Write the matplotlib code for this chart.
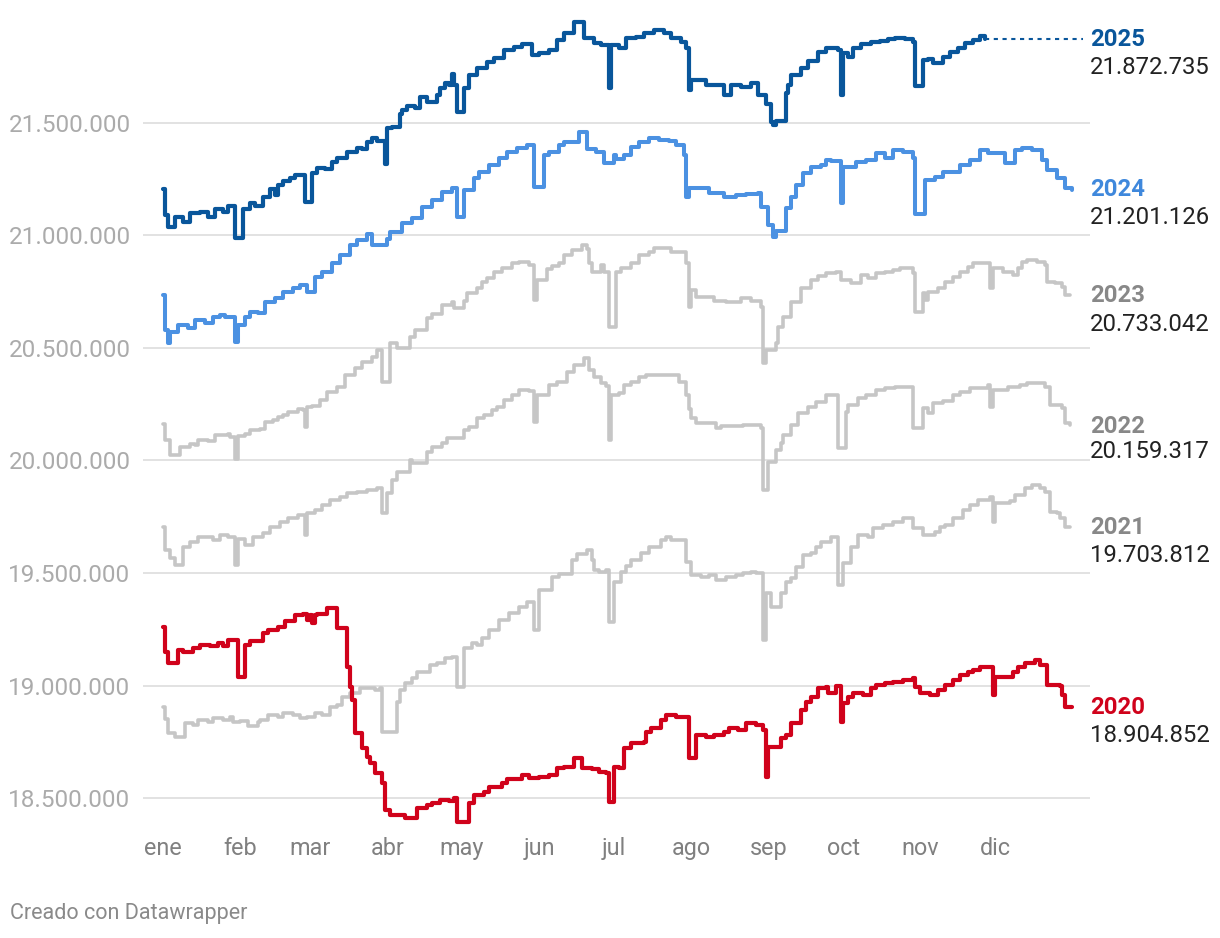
import matplotlib
matplotlib.use("Agg")
import matplotlib.pyplot as plt
from matplotlib.ticker import FuncFormatter

plt.rcParams['font.family'] = ['Roboto', 'DejaVu Sans']

# ---------------- data (day of year, value in millions) ----------------
days_2025 = [0, 1, 2, 5, 8, 11, 15, 18, 21, 24,
             26, 29, 32, 35, 37, 40, 43, 45, 46, 48,
             51, 53, 57, 60, 62, 65, 68, 70, 74, 78,
             80, 82, 84, 86, 89, 90, 92, 95, 96, 98,
             101, 103, 106, 110, 111, 113, 115, 116, 117, 118,
             121, 123, 126, 130, 133, 137, 141, 144, 148, 151,
             155, 158, 161, 165, 169, 173, 176, 179, 180, 183,
             186, 190, 193, 197, 201, 204, 208, 210, 211, 212,
             218, 225, 228, 232, 236, 239, 242, 244, 245, 246,
             250, 251, 252, 256, 259, 263, 266, 271, 272, 273,
             275, 277, 280, 284, 288, 291, 294, 298, 301, 302,
             305, 307, 309, 313, 316, 319, 322, 325, 328, 330]
vals_2025 = [21.206, 21.090, 21.038, 21.083, 21.060, 21.098, 21.105, 21.083, 21.117, 21.105,
             21.131, 20.989, 21.117, 21.142, 21.131, 21.171, 21.206, 21.179, 21.223, 21.241,
             21.256, 21.268, 21.146, 21.277, 21.297, 21.295, 21.327, 21.342, 21.371, 21.389,
             21.385, 21.416, 21.433, 21.420, 21.315, 21.475, 21.480, 21.537, 21.556, 21.575,
             21.565, 21.615, 21.591, 21.623, 21.653, 21.675, 21.667, 21.715, 21.667, 21.549,
             21.653, 21.712, 21.741, 21.771, 21.786, 21.823, 21.838, 21.848, 21.801, 21.810,
             21.823, 21.867, 21.897, 21.949, 21.875, 21.853, 21.843, 21.653, 21.843, 21.830,
             21.875, 21.880, 21.897, 21.912, 21.900, 21.875, 21.860, 21.830, 21.645, 21.690,
             21.667, 21.623, 21.667, 21.660, 21.675, 21.623, 21.582, 21.504, 21.490, 21.506,
             21.631, 21.667, 21.712, 21.741, 21.774, 21.815, 21.833, 21.825, 21.623, 21.808,
             21.790, 21.833, 21.848, 21.860, 21.863, 21.872, 21.877, 21.872, 21.860, 21.664,
             21.778, 21.785, 21.764, 21.793, 21.815, 21.833, 21.853, 21.867, 21.886, 21.872735]

days_2024 = [0, 1, 2, 3, 6, 10, 13, 17, 20, 23,
             25, 27, 29, 30, 33, 35, 38, 41, 45, 48,
             52, 55, 58, 61, 64, 68, 71, 75, 78, 82,
             84, 90, 91, 96, 100, 104, 108, 112, 116, 118,
             121, 125, 127, 131, 135, 138, 142, 146, 149, 153,
             155, 159, 161, 167, 170, 174, 177, 181, 182, 185,
             188, 191, 195, 199, 203, 206, 209, 210, 211, 219,
             225, 230, 234, 239, 240, 243, 245, 246, 250, 252,
             254, 257, 260, 264, 266, 268, 272, 273, 278, 282,
             286, 290, 293, 297, 301, 302, 306, 310, 313, 320,
             324, 328, 331, 338, 342, 345, 349, 353, 355, 359,
             362, 365]
vals_2024 = [20.735, 20.580, 20.520, 20.570, 20.602, 20.587, 20.624, 20.610, 20.639, 20.646,
             20.635, 20.639, 20.528, 20.602, 20.639, 20.661, 20.655, 20.705, 20.723, 20.750,
             20.767, 20.780, 20.750, 20.816, 20.838, 20.876, 20.912, 20.957, 20.979, 21.004,
             20.957, 20.985, 21.016, 21.053, 21.075, 21.127, 21.157, 21.194, 21.209, 21.083,
             21.201, 21.253, 21.282, 21.312, 21.342, 21.371, 21.386, 21.401, 21.216, 21.357,
             21.371, 21.401, 21.416, 21.460, 21.383, 21.371, 21.320, 21.357, 21.340, 21.357,
             21.393, 21.416, 21.431, 21.425, 21.420, 21.401, 21.357, 21.171, 21.209, 21.186,
             21.171, 21.180, 21.183, 21.186, 21.127, 21.046, 20.994, 21.019, 21.120, 21.171,
             21.223, 21.275, 21.305, 21.310, 21.334, 21.330, 21.142, 21.305, 21.325, 21.334,
             21.364, 21.345, 21.379, 21.372, 21.345, 21.095, 21.246, 21.260, 21.282, 21.312,
             21.334, 21.379, 21.365, 21.320, 21.379, 21.386, 21.379, 21.334, 21.290, 21.253,
             21.209, 21.201126]

days_2023 = [0, 1, 3, 7, 11, 13, 14, 18, 21, 26,
             27, 29, 30, 33, 35, 39, 41, 44, 46, 48,
             50, 54, 56, 57, 58, 60, 63, 66, 70, 73,
             77, 80, 84, 86, 88, 91, 94, 99, 101, 106,
             108, 112, 116, 117, 121, 122, 126, 128, 130, 133,
             136, 140, 143, 147, 149, 150, 154, 156, 159, 161,
             164, 168, 170, 171, 172, 176, 177, 179, 182, 184,
             188, 191, 195, 197, 200, 204, 208, 210, 211, 212,
             214, 221, 226, 232, 236, 240, 241, 242, 246, 247,
             249, 252, 256, 260, 263, 266, 270, 272, 276, 280,
             283, 286, 290, 293, 296, 299, 301, 302, 305, 306,
             307, 311, 314, 317, 320, 323, 325, 332, 333, 337,
             341, 343, 345, 347, 351, 354, 355, 358, 361, 362,
             364]
vals_2023 = [20.162, 20.091, 20.024, 20.061, 20.075, 20.068, 20.091, 20.085, 20.113, 20.118,
             20.105, 20.005, 20.108, 20.118, 20.135, 20.140, 20.172, 20.180, 20.194, 20.200,
             20.217, 20.230, 20.225, 20.150, 20.239, 20.242, 20.269, 20.306, 20.328, 20.380,
             20.409, 20.439, 20.461, 20.491, 20.350, 20.520, 20.500, 20.550, 20.580, 20.631,
             20.650, 20.690, 20.705, 20.679, 20.708, 20.742, 20.765, 20.794, 20.810, 20.838,
             20.855, 20.876, 20.883, 20.868, 20.713, 20.800, 20.850, 20.865, 20.876, 20.913,
             20.935, 20.957, 20.940, 20.876, 20.838, 20.868, 20.838, 20.594, 20.838, 20.853,
             20.876, 20.913, 20.928, 20.942, 20.942, 20.928, 20.925, 20.876, 20.683, 20.757,
             20.727, 20.708, 20.705, 20.720, 20.708, 20.683, 20.432, 20.491, 20.520, 20.594,
             20.639, 20.705, 20.765, 20.802, 20.820, 20.831, 20.838, 20.802, 20.787, 20.824,
             20.812, 20.831, 20.838, 20.845, 20.853, 20.853, 20.831, 20.661, 20.742, 20.713,
             20.750, 20.765, 20.794, 20.816, 20.838, 20.860, 20.876, 20.765, 20.853, 20.838,
             20.824, 20.853, 20.883, 20.890, 20.883, 20.868, 20.794, 20.787, 20.772, 20.735,
             20.733042]

days_2022 = [0, 1, 3, 5, 8, 11, 14, 20, 23, 26,
             29, 30, 33, 36, 40, 43, 47, 50, 54, 57,
             58, 61, 64, 67, 71, 74, 78, 82, 86, 88,
             90, 92, 94, 99, 100, 102, 106, 108, 112, 114,
             121, 123, 126, 129, 132, 134, 137, 140, 143, 147,
             149, 150, 155, 158, 162, 165, 169, 171, 173, 176,
             178, 179, 180, 183, 185, 188, 191, 194, 201, 207,
             210, 211, 212, 214, 222, 224, 233, 240, 241, 243,
             246, 248, 249, 252, 255, 259, 262, 266, 271, 274,
             275, 279, 282, 286, 290, 294, 298, 301, 305, 307,
             309, 313, 317, 320, 324, 331, 332, 333, 339, 344,
             347, 354, 356, 361, 362, 364]
vals_2022 = [19.706, 19.603, 19.566, 19.536, 19.617, 19.640, 19.662, 19.647, 19.669, 19.662,
             19.536, 19.650, 19.625, 19.662, 19.677, 19.706, 19.728, 19.743, 19.758, 19.669,
             19.765, 19.780, 19.802, 19.825, 19.840, 19.854, 19.862, 19.869, 19.877, 19.765,
             19.854, 19.913, 19.950, 20.002, 19.987, 19.987, 20.039, 20.061, 20.076, 20.099,
             20.135, 20.150, 20.187, 20.200, 20.224, 20.239, 20.269, 20.291, 20.313, 20.310,
             20.172, 20.291, 20.335, 20.350, 20.394, 20.424, 20.454, 20.400, 20.370, 20.343,
             20.330, 20.091, 20.291, 20.300, 20.335, 20.350, 20.372, 20.380, 20.378, 20.350,
             20.290, 20.230, 20.187, 20.165, 20.144, 20.153, 20.158, 20.144, 19.869, 19.995,
             20.047, 20.076, 20.113, 20.158, 20.210, 20.239, 20.261, 20.291, 20.054, 20.217,
             20.246, 20.276, 20.291, 20.313, 20.320, 20.328, 20.328, 20.143, 20.232, 20.210,
             20.254, 20.265, 20.291, 20.305, 20.321, 20.335, 20.239, 20.313, 20.328, 20.335,
             20.342, 20.328, 20.246, 20.232, 20.165, 20.159317]

days_2021 = [0, 1, 2, 5, 9, 12, 14, 18, 20, 24,
             27, 28, 31, 34, 38, 39, 42, 46, 48, 52,
             55, 58, 61, 64, 67, 70, 72, 75, 79, 82,
             85, 87, 88, 94, 95, 97, 100, 102, 107, 110,
             113, 116, 118, 121, 124, 126, 128, 131, 135, 139,
             143, 146, 149, 151, 156, 159, 164, 166, 170, 172,
             173, 175, 178, 179, 181, 184, 186, 188, 192, 195,
             200, 202, 204, 208, 210, 212, 216, 219, 222, 226,
             230, 233, 236, 238, 241, 242, 244, 248, 250, 252,
             254, 257, 260, 262, 264, 268, 271, 273, 276, 279,
             283, 285, 289, 293, 297, 301, 305, 310, 312, 314,
             317, 321, 324, 327, 332, 333, 334, 340, 342, 346,
             349, 352, 354, 356, 359, 360, 362, 364]
vals_2021 = [18.907, 18.850, 18.789, 18.774, 18.833, 18.825, 18.848, 18.840, 18.855, 18.848,
             18.862, 18.840, 18.843, 18.821, 18.840, 18.848, 18.870, 18.862, 18.877, 18.870,
             18.855, 18.862, 18.877, 18.870, 18.907, 18.915, 18.951, 18.966, 18.988, 18.990,
             18.981, 18.988, 18.796, 18.929, 18.980, 19.011, 19.033, 19.062, 19.092, 19.100,
             19.122, 19.129, 18.996, 19.166, 19.188, 19.180, 19.210, 19.247, 19.292, 19.321,
             19.351, 19.373, 19.247, 19.425, 19.484, 19.495, 19.558, 19.585, 19.603, 19.558,
             19.514, 19.506, 19.514, 19.284, 19.462, 19.506, 19.530, 19.558, 19.588, 19.617,
             19.647, 19.662, 19.647, 19.647, 19.551, 19.492, 19.484, 19.492, 19.469, 19.484,
             19.492, 19.502, 19.506, 19.499, 19.203, 19.410, 19.351, 19.410, 19.462, 19.477,
             19.528, 19.580, 19.590, 19.617, 19.640, 19.662, 19.447, 19.543, 19.617, 19.669,
             19.662, 19.699, 19.714, 19.725, 19.743, 19.699, 19.669, 19.684, 19.706, 19.714,
             19.743, 19.780, 19.802, 19.825, 19.839, 19.728, 19.810, 19.818, 19.847, 19.877,
             19.891, 19.877, 19.862, 19.773, 19.765, 19.743, 19.706, 19.703812]

days_2020 = [0, 1, 2, 6, 8, 12, 15, 19, 22, 24,
             26, 30, 33, 35, 40, 42, 46, 49, 53, 56,
             58, 59, 60, 61, 62, 66, 70, 74, 75, 76,
             77, 80, 82, 83, 85, 88, 89, 91, 97, 102,
             106, 108, 111, 115, 117, 118, 123, 125, 129, 131,
             136, 138, 142, 144, 147, 151, 155, 158, 161, 165,
             168, 172, 175, 178, 179, 181, 183, 185, 188, 193,
             194, 196, 200, 202, 206, 210, 211, 214, 218, 221,
             225, 227, 231, 234, 238, 241, 242, 243, 248, 250,
             252, 256, 258, 260, 263, 266, 267, 270, 272, 273,
             275, 277, 281, 284, 286, 290, 293, 297, 301, 302,
             304, 308, 311, 314, 317, 320, 323, 325, 328, 333,
             334, 341, 343, 346, 350, 352, 355, 360, 361, 362,
             365]
vals_2020 = [19.262, 19.151, 19.099, 19.159, 19.150, 19.166, 19.181, 19.175, 19.188, 19.175,
             19.203, 19.040, 19.180, 19.199, 19.233, 19.247, 19.262, 19.289, 19.314, 19.320,
             19.290, 19.314, 19.280, 19.314, 19.320, 19.344, 19.255, 19.084, 18.996, 18.937,
             18.789, 18.722, 18.685, 18.655, 18.611, 18.567, 18.448, 18.426, 18.411, 18.456,
             18.470, 18.480, 18.492, 18.490, 18.500, 18.396, 18.478, 18.515, 18.530, 18.552,
             18.567, 18.585, 18.585, 18.603, 18.590, 18.596, 18.603, 18.633, 18.640, 18.678,
             18.633, 18.630, 18.618, 18.612, 18.485, 18.640, 18.633, 18.722, 18.744, 18.750,
             18.796, 18.810, 18.848, 18.870, 18.862, 18.860, 18.678, 18.781, 18.770, 18.781,
             18.796, 18.810, 18.803, 18.833, 18.825, 18.803, 18.596, 18.729, 18.766, 18.781,
             18.833, 18.892, 18.929, 18.950, 18.988, 18.994, 18.966, 19.000, 18.840, 18.922,
             18.950, 18.966, 18.960, 18.990, 19.003, 19.010, 19.018, 19.025, 19.032, 18.996,
             18.966, 18.960, 18.981, 19.003, 19.025, 19.048, 19.062, 19.070, 19.084, 18.960,
             19.040, 19.062, 19.084, 19.099, 19.114, 19.092, 19.003, 18.999, 18.959, 18.907,
             18.904852]

month_starts = [0, 31, 59, 90, 120, 151, 181, 212, 243, 273, 304, 334]
month_labels = ["ene", "feb", "mar", "abr", "may", "jun", "jul", "ago", "sep", "oct", "nov", "dic"]
y_ticks = [18.5, 19.0, 19.5, 20.0, 20.5, 21.0, 21.5]

end_labels = ["2025", "2024", "2023", "2022", "2021", "2020"]
end_values = ["21.872.735", "21.201.126", "20.733.042", "20.159.317", "19.703.812", "18.904.852"]

# ---------------- styling ----------------
C25 = "#09569b"
C24 = "#4b91e2"
CGRAY = "#c6c6c6"
C20 = "#d0021b"

W, H = 1220, 938
fig = plt.figure(figsize=(W / 100, H / 100), dpi=100)
ax = fig.add_axes([143 / W, (H - 830) / H, (1090 - 143) / W, (830 - 10) / H])

ax.set_xlim(-8.03, 372.1)
ax.set_ylim(18.3592, 22.0004)

for d, v in [(days_2023, vals_2023), (days_2022, vals_2022), (days_2021, vals_2021)]:
    ax.plot(d, v, drawstyle="steps-post", color=CGRAY, lw=2.6, zorder=3,
            solid_joinstyle="round", solid_capstyle="round")
ax.plot(days_2024, vals_2024, drawstyle="steps-post", color=C24, lw=2.9, zorder=4,
        solid_joinstyle="round", solid_capstyle="round")
ax.plot(days_2025, vals_2025, drawstyle="steps-post", color=C25, lw=3.0, zorder=5,
        solid_joinstyle="round", solid_capstyle="round")
ax.plot(days_2020, vals_2020, drawstyle="steps-post", color=C20, lw=3.0, zorder=5,
        solid_joinstyle="round", solid_capstyle="round")
# dotted continuation of 2025 to its label
ax.plot([days_2025[-1], 369.3], [vals_2025[-1], vals_2025[-1]], color=C25, lw=1.5,
        linestyle=(0, (2.0, 2.2)), zorder=5)

# grid
ax.set_yticks(y_ticks)
ax.yaxis.set_major_formatter(FuncFormatter(lambda v, p: f"{v * 1e6:,.0f}".replace(",", ".")))
ax.grid(axis="y", color="#e2e2e2", lw=1.4, zorder=0)
ax.set_xticks(month_starts)
ax.set_xticklabels(month_labels)
for s in ax.spines.values():
    s.set_visible(False)
ax.tick_params(axis="y", length=0, pad=9, labelsize=17.5, labelcolor="#ababab")
ax.tick_params(axis="x", length=0, pad=5, labelsize=16.8, labelcolor="#808080")
for lbl in ax.get_xticklabels():
    lbl.set_horizontalalignment("center")

# end labels
label_colors = [C25, "#3f88dc", "#888888", "#888888", "#888888", C20]
label_y = [40, 189, 296, 426, 527, 707]
value_y = [67, 217, 324, 451, 556, 735]
for name, val, col, ly, vy in zip(end_labels, end_values, label_colors, label_y, value_y):
    fig.text(1090 / W, 1 - ly / H, name, color=col, fontsize=17.2, fontweight="bold",
             ha="left", va="center")
    fig.text(1090 / W, 1 - vy / H, val, color="#222222", fontsize=17.2,
             ha="left", va="center")

fig.text(10 / W, 1 - 913 / H, "Creado con Datawrapper", color="#8a8a8a", fontsize=15.5,
         ha="left", va="center")

fig.savefig("out.png", dpi=100, facecolor="white")
